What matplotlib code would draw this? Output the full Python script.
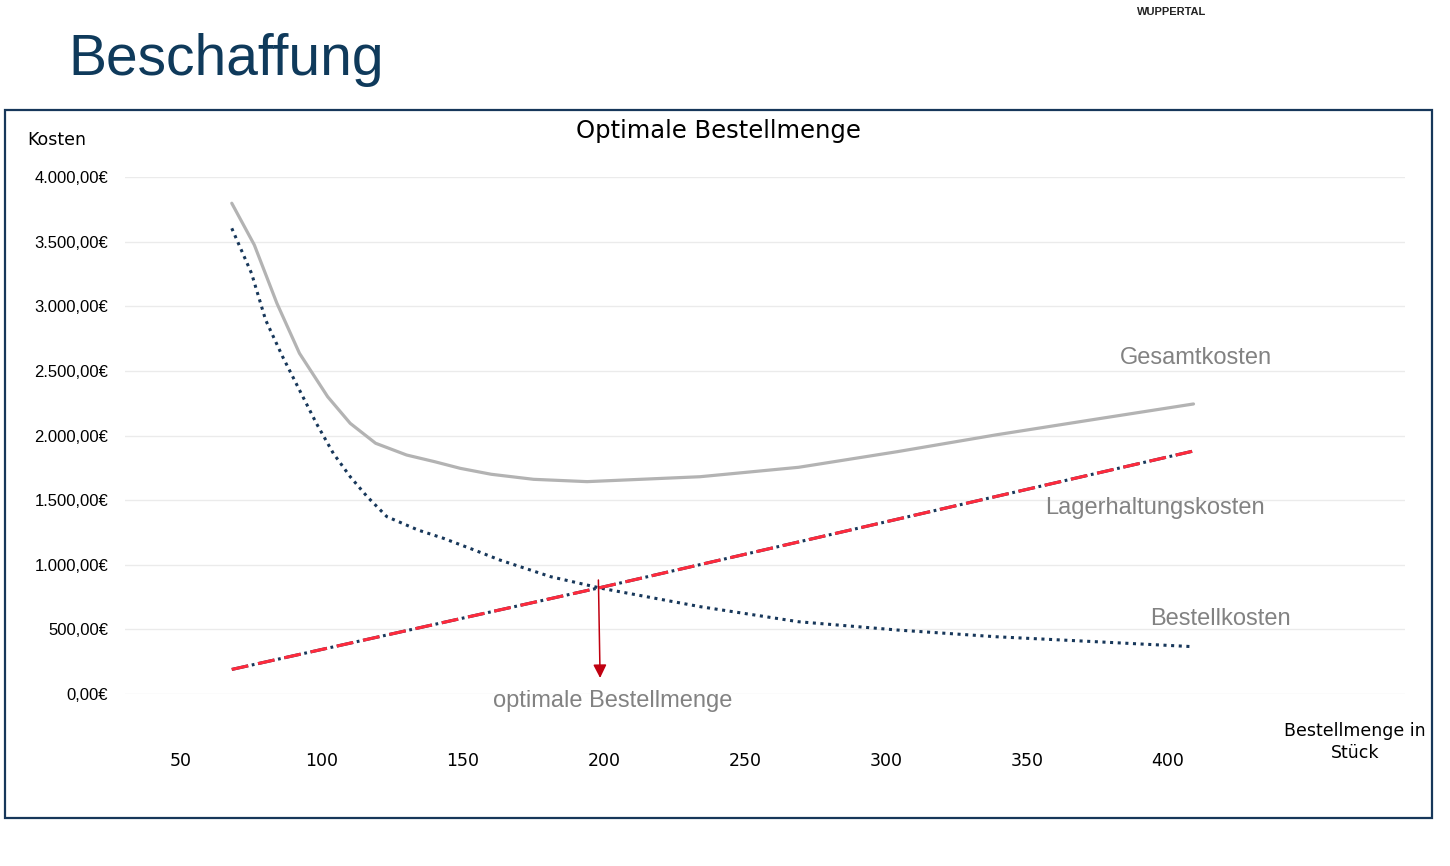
import matplotlib.pyplot as plt
from matplotlib.ticker import FuncFormatter

# Werte
menge_gesamt = [68, 76, 84, 92, 102, 110, 119, 130, 140, 149, 160, 175, 194,
                234, 269, 304, 339, 374, 409]
kosten_gesamt = [3797, 3474, 3023, 2636, 2300, 2094, 1940, 1849, 1797, 1746,
                 1700, 1661, 1643, 1681, 1754, 1875, 2005, 2125, 2244]

menge_bestell = [68, 75, 80, 86, 92, 98, 104, 110, 116, 123, 134, 143, 154,
                 163, 181, 199, 234, 269, 304, 339, 374, 409]
kosten_bestell = [3603, 3255, 2894, 2611, 2352, 2094, 1862, 1681, 1527, 1372,
                  1269, 1205, 1114, 1037, 908, 818, 676, 559, 495, 443, 405, 366]

menge_lager = [68, 199, 409]
kosten_lager = [190, 825, 1880]

x_ticks = [50, 100, 150, 200, 250, 300, 350, 400]
y_ticks = [0, 500, 1000, 1500, 2000, 2500, 3000, 3500, 4000]

optimum_menge = 198
optimum_kosten = 882

W, H = 1450, 866
fig = plt.figure(figsize=(W / 100, H / 100), dpi=100)
fig.patch.set_facecolor('white')

navy = '#17375a'

# Folientitel + Logo-Text
fig.text(68 / W, 1 - 60 / H, 'Beschaffung', fontsize=41, color='#0f3a5b',
         family='Liberation Sans', va='center', ha='left')
fig.text(1137 / W, 1 - 12 / H, 'WUPPERTAL', fontsize=8, fontweight='bold',
         color='#222222', family='Liberation Sans', va='center', ha='left')

# Rahmen um das Diagramm
frame = plt.Rectangle((5 / W, 1 - 818 / H), 1427 / W, 708 / H, transform=fig.transFigure,
                      fill=False, edgecolor=navy, linewidth=1.6)
fig.add_artist(frame)

ax = fig.add_axes([125 / W, 1 - 694 / H, 1280 / W, 517 / H])
ax.set_xlim(30.14, 484.0)
ax.set_ylim(0, 4000)

for s in ax.spines.values():
    s.set_visible(False)
ax.set_yticks(y_ticks)
ax.set_xticks(x_ticks)
ax.yaxis.grid(True, color='#ebebeb', linewidth=1.0)
ax.set_axisbelow(True)
ax.tick_params(length=0)
ax.tick_params(axis='y', pad=12, labelsize=12, labelfontfamily='Liberation Sans')
ax.tick_params(axis='x', pad=42, labelsize=12.5)
ax.yaxis.set_major_formatter(FuncFormatter(
    lambda v, p: f'{v:,.2f}'.replace(',', 'X').replace('.', ',').replace('X', '.') + '€'))

# Kurven
ax.plot(menge_gesamt, kosten_gesamt, color='#b3b3b3', linewidth=2.3,
        solid_capstyle='round', solid_joinstyle='round', zorder=3)
ax.plot(menge_bestell, kosten_bestell, color=navy, linewidth=2.2,
        linestyle=(0, (1, 1.5)), zorder=4)
ax.plot(menge_lager, kosten_lager, color=navy, linewidth=2.2,
        linestyle=(0, (5.5, 1.2, 0.9, 1.2)), zorder=5)
ax.plot(menge_lager, kosten_lager, color='#ff2a3c', linewidth=2.2,
        linestyle=(0, (5.5, 3.3)), zorder=6)

# Pfeil zur optimalen Bestellmenge
ax.annotate('', xy=(optimum_menge + 0.6, 124), xytext=(optimum_menge, optimum_kosten),
            arrowprops=dict(arrowstyle='-|>', color='#c00010', lw=1.1,
                            mutation_scale=20, shrinkA=0, shrinkB=0),
            zorder=7, annotation_clip=False)

label_style = dict(fontsize=17, color='#828282', family='Liberation Sans',
                   va='center', ha='left', clip_on=False)
ax.text(383, 2600, 'Gesamtkosten', **label_style)
ax.text(356.4, 1440, 'Lagerhaltungskosten', **label_style)
ax.text(393.6, 580, 'Bestellkosten', **label_style)
ax.text(160.6, -58, 'optimale Bestellmenge', **label_style)

# Diagrammtitel und Achsenbeschriftungen
fig.text(718 / W, 1 - 131 / H, 'Optimale Bestellmenge', fontsize=17.5,
         ha='center', va='center', color='black')
fig.text(27 / W, 1 - 140 / H, 'Kosten', fontsize=12.5, ha='left', va='center')
fig.text(1355 / W, 1 - 742 / H, 'Bestellmenge in\nStück', fontsize=12.5,
         ha='center', va='center', linespacing=1.25)

fig.savefig('out.png', dpi=100)
